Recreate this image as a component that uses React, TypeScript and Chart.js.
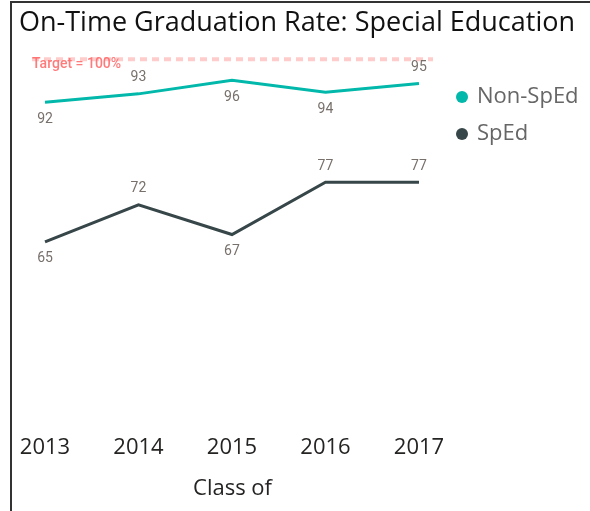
import React, { useEffect, useRef } from "react";
import { Chart, registerables } from "chart.js";

Chart.register(...registerables);

const chartTitle = "On-Time Graduation Rate: Special Education";
const xAxisTitle = "Class of";
const years = [2013, 2014, 2015, 2016, 2017];
const seriesNames = ["Non-SpEd", "SpEd"];
const nonSped = [91.8, 93.4, 96.0, 93.7, 95.4];
const sped = [65.1, 72.2, 66.5, 76.5, 76.5];
const nonSpedLabelPos = ["below", "above", "below", "below", "above"];
const spedLabelPos = ["below", "above", "below", "above", "above"];
const targetValue = 100;
const targetLabel = "Target = 100%";
const yMin = 28.9;
const yMax = 102.36;
const xMin = 2012.861;
const xMax = 2017.15;

const TEAL = "#01B8AA";
const DARK = "#374649";

const targetPlugin = {
  id: "targetLine",
  beforeDatasetsDraw(chart: any) {
    const { ctx, chartArea, scales } = chart;
    const y = scales.y.getPixelForValue(targetValue);
    ctx.save();
    ctx.strokeStyle = "rgba(255,120,120,0.38)";
    ctx.lineWidth = 4;
    ctx.setLineDash([7, 5]);
    ctx.beginPath();
    ctx.moveTo(chartArea.left, y);
    ctx.lineTo(chartArea.right, y);
    ctx.stroke();
    ctx.setLineDash([]);
    ctx.fillStyle = "rgba(255,100,100,0.85)";
    ctx.font = "500 14px Roboto";
    ctx.textAlign = "left";
    ctx.textBaseline = "middle";
    ctx.fillText(targetLabel, chartArea.left, y + 5);
    ctx.restore();
  },
};

const labelPlugin = {
  id: "pointLabels",
  afterDatasetsDraw(chart: any) {
    const { ctx } = chart;
    const positions = [nonSpedLabelPos, spedLabelPos];
    ctx.save();
    ctx.fillStyle = "#77706B";
    ctx.font = "14px Roboto";
    ctx.textAlign = "center";
    ctx.textBaseline = "middle";
    chart.data.datasets.forEach((ds: any, di: number) => {
      const meta = chart.getDatasetMeta(di);
      meta.data.forEach((pt: any, i: number) => {
        const v = ds.data[i].y;
        const off = positions[di][i] === "above" ? -16 : 17;
        ctx.fillText(String(Math.round(v)), pt.x, pt.y + off);
      });
    });
    ctx.restore();
  },
};

const legendPlugin = {
  id: "sideLegend",
  afterDraw(chart: any) {
    const { ctx, chartArea } = chart;
    const x0 = chartArea.right + 29;
    const y0 = 97;
    const step = 37;
    ctx.save();
    ctx.font = "22px 'Open Sans'";
    ctx.textAlign = "left";
    ctx.textBaseline = "middle";
    chart.data.datasets.forEach((ds: any, i: number) => {
      const cy = y0 + i * step;
      ctx.fillStyle = ds.borderColor;
      ctx.beginPath();
      ctx.arc(x0, cy, 6, 0, Math.PI * 2);
      ctx.fill();
      ctx.fillStyle = "#666";
      ctx.fillText(ds.label, x0 + 15, cy);
    });
    ctx.restore();
  },
};

export default function App() {
  const ref = useRef<HTMLCanvasElement | null>(null);

  useEffect(() => {
    if (!ref.current) return;
    const chart = new Chart(ref.current, {
      type: "line",
      data: {
        datasets: [
          {
            label: seriesNames[0],
            data: years.map((x, i) => ({ x, y: nonSped[i] })),
            borderColor: TEAL,
            backgroundColor: TEAL,
            borderWidth: 3,
            pointRadius: 0,
            tension: 0,
          },
          {
            label: seriesNames[1],
            data: years.map((x, i) => ({ x, y: sped[i] })),
            borderColor: DARK,
            backgroundColor: DARK,
            borderWidth: 3,
            pointRadius: 0,
            tension: 0,
          },
        ],
      },
      options: {
        animation: false,
        responsive: false,
        maintainAspectRatio: false,
        layout: { padding: { left: 19, right: 2, top: 7, bottom: 5 } },
        plugins: {
          title: {
            display: true,
            text: chartTitle,
            align: "start",
            color: "#111",
            font: { family: "Open Sans", size: 27, weight: "normal" },
            padding: { top: 0, bottom: 7.6 },
          },
          legend: { display: false },
          tooltip: { enabled: false },
        },
        scales: {
          x: {
            type: "linear",
            min: xMin,
            max: xMax,
            afterBuildTicks: (axis: any) => {
              axis.ticks = years.map((v) => ({ value: v }));
            },
            ticks: {
              autoSkip: false,
              maxRotation: 0,
              color: "#252423",
              font: { family: "Open Sans", size: 22 },
              padding: 3,
              callback: (v: any) => String(v),
            },
            grid: { display: false, drawTicks: false },
            border: { display: false },
            title: {
              display: true,
              text: xAxisTitle,
              color: "#252423",
              font: { family: "Open Sans", size: 22 },
              padding: { top: 12, bottom: 4 },
            },
          },
          y: {
            position: "left",
            min: yMin,
            max: yMax,
            ticks: { display: false },
            grid: { display: false, drawTicks: false },
            border: { display: false },
            afterFit: (scale: any) => {
              scale.width = 13;
            },
          },
          y2: {
            position: "right",
            min: yMin,
            max: yMax,
            ticks: { display: false },
            grid: { display: false, drawTicks: false },
            border: { display: false },
            afterFit: (scale: any) => {
              scale.width = 155;
            },
          },
        },
      },
      plugins: [targetPlugin, labelPlugin, legendPlugin],
    });
    return () => chart.destroy();
  }, []);

  return (
    <div
      style={{
        position: "fixed",
        left: 0,
        top: 0,
        width: 590,
        height: 511,
        background: "#fff",
        overflow: "hidden",
      }}
    >
      <canvas ref={ref} width={590} height={511} style={{ display: "block" }} />
      <div
        style={{
          position: "absolute",
          left: 10,
          top: 1,
          right: 0,
          bottom: 0,
          borderLeft: "2px solid #333",
          borderTop: "2px solid #333",
          pointerEvents: "none",
        }}
      />
    </div>
  );
}
